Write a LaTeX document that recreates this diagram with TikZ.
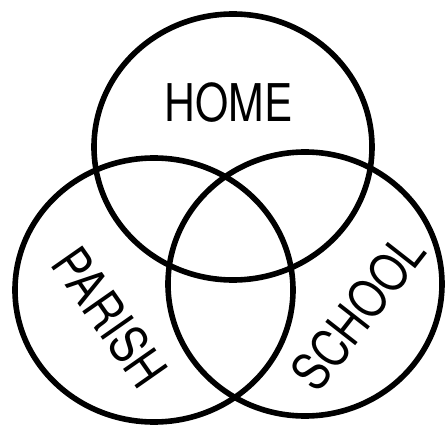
\documentclass[tikz,border=0pt]{standalone}
\usepackage{fontspec}
\usepackage{graphicx}
\setmainfont{TeX Gyre Heros}
\newcommand{\narrow}[1]{\scalebox{0.82}[1]{#1}}
\begin{document}
\begin{tikzpicture}[x=1pt,y=-1pt,
  ring/.style={draw=black, line width=5.6pt},
  lbl/.style={font=\fontsize{52}{52}\selectfont, inner sep=0pt}]
\useasboundingbox (0,0) rectangle (445,428);
\fill[white] (0,0) rectangle (445,428);
\draw[ring] (233,147) ellipse [x radius=139pt, y radius=133pt];
\draw[ring] (154,290) ellipse [x radius=139pt, y radius=132pt];
\draw[ring] (305,284) ellipse [x radius=137pt, y radius=132pt];
\node[lbl] (home) at (228.5,102.5) {\narrow{HOME}};
\node[lbl, rotate=-55] (parish) at (110,317) {\narrow{PARISH}};
\node[lbl, rotate=52] (school) at (358,312) {\narrow{SCHOOL}};
\end{tikzpicture}
\end{document}
